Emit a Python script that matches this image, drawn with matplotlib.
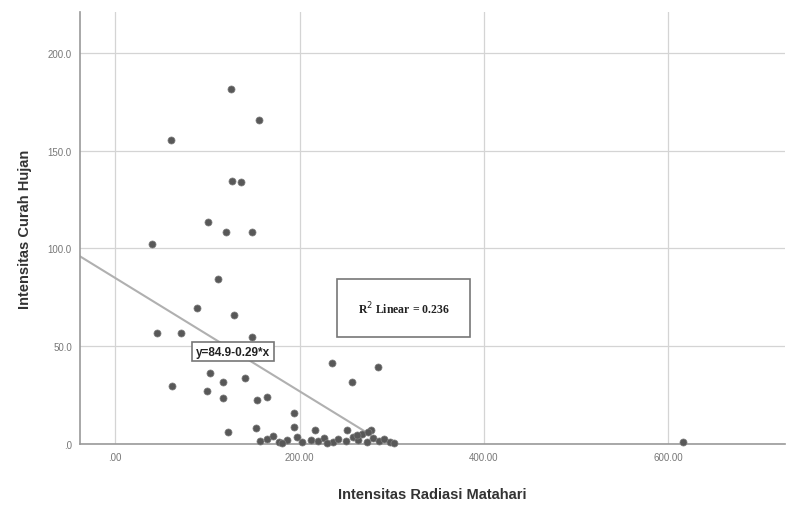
import matplotlib
matplotlib.use("Agg")
import matplotlib.pyplot as plt
import numpy as np

# Intensitas Radiasi Matahari (x) vs Intensitas Curah Hujan (y)
radiasi = [125.6, 156.0, 60.6, 126.7, 136.4, 100.7, 120.2, 148.3, 40.0,
           111.5, 88.8, 128.9, 45.5, 71.5, 148.3,
           61.7, 102.9, 117.0, 99.6, 140.8, 117.0, 153.8, 164.6,
           193.8, 193.8, 122.4, 152.7, 216.6, 252.0, 278.0,
           235.0, 256.6, 284.8,
           157.0, 165.0, 171.0, 178.0, 186.0, 197.0, 203.0, 212.0, 220.0,
           227.0, 236.0, 242.0, 250.0, 258.0, 263.0, 268.0, 273.0, 280.0,
           286.0, 292.0, 298.0, 302.0, 181.0, 230.0, 262.0, 274.0,
           616.0]
curah_hujan = [181.7, 165.8, 155.6, 134.6, 134.1, 113.6, 108.5, 108.5, 102.4,
               84.4, 69.6, 66.0, 56.8, 56.8, 54.8,
               29.7, 36.3, 31.7, 27.1, 33.8, 23.5, 22.5, 24.1,
               15.9, 8.7, 6.1, 8.2, 7.2, 7.2, 7.2,
               41.5, 31.7, 39.4,
               1.5, 2.5, 4.0, 1.0, 2.0, 3.5, 1.0, 2.0, 1.5,
               3.0, 1.0, 2.5, 1.5, 3.5, 2.0, 5.0, 1.0, 3.0,
               1.5, 2.5, 1.0, 0.5, 0.5, 0.5, 4.5, 6.0,
               0.8]

intercept, slope = 84.9, -0.29
fit_range = [-38, 272]
r2_text = "R$^2$ Linear = 0.236"
eq_text = "y=84.9-0.29*x"

x_ticks = [0, 200, 400, 600]
x_ticklabels = [".00", "200.00", "400.00", "600.00"]
y_ticks = [0, 50, 100, 150, 200]
y_ticklabels = [".0", "50.0", "100.0", "150.0", "200.0"]

plt.rcParams["font.family"] = ["Liberation Sans", "DejaVu Sans"]

fig = plt.figure(figsize=(7.86, 5.06), dpi=100)
ax = fig.add_axes([0.102, 0.121, 0.897, 0.853])

ax.set_xlim(-38, 727)
ax.set_ylim(0, 221)
ax.set_xticks(x_ticks)
ax.set_xticklabels(x_ticklabels)
ax.set_yticks(y_ticks)
ax.set_yticklabels(y_ticklabels)
ax.tick_params(length=0, labelsize=7, labelcolor="#777777", pad=6)
ax.grid(True, color="#d4d4d4", linewidth=0.9)
ax.set_axisbelow(True)

for side in ["top", "right"]:
    ax.spines[side].set_visible(False)
for side in ["left", "bottom"]:
    ax.spines[side].set_color("#999999")
    ax.spines[side].set_linewidth(1.2)

fx = np.array(fit_range, dtype=float)
ax.plot(fx, intercept + slope * fx, color="#b0b0b0", linewidth=1.5, zorder=2)

ax.scatter(radiasi, curah_hujan, s=26, color="#585858", edgecolor="#808080",
           linewidth=0.5, zorder=3, clip_on=False)

ax.text(127.8, 47.1, eq_text, fontsize=8.5, fontweight="bold", color="#222222",
        ha="center", va="center", zorder=4,
        bbox=dict(boxstyle="square,pad=0.3", facecolor="white",
                  edgecolor="#777777", linewidth=1.2))
ax.text(313, 69.6, r2_text, fontsize=8.5, fontweight="bold", color="#222222",
        family="Liberation Serif", ha="center", va="center", zorder=4,
        bbox=dict(boxstyle="square,pad=1.75", facecolor="white",
                  edgecolor="#777777", linewidth=1.2))

ax.set_xlabel("Intensitas Radiasi Matahari", fontsize=10.5, fontweight="bold",
              color="#333333", labelpad=18)
ax.set_ylabel("Intensitas Curah Hujan", fontsize=10.5, fontweight="bold",
              color="#333333", labelpad=11)

fig.savefig("out.png", dpi=100)
